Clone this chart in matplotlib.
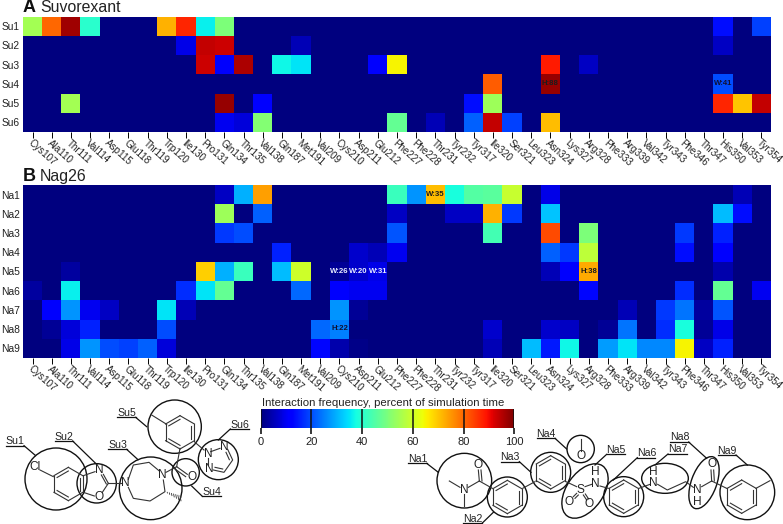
import numpy as np
import matplotlib
matplotlib.use("Agg")
import matplotlib.pyplot as plt
from matplotlib.patches import Ellipse
from matplotlib.transforms import ScaledTranslation

plt.rcParams['font.family'] = ['Liberation Sans', 'DejaVu Sans']

W, H = 783, 524

residues = ["Cys107", "Ala110", "Thr111", "Val114", "Asp115", "Glu118", "Thr119", "Trp120", "Ile130", "Pro131",
            "Gln134", "Thr135", "Val138", "Gln187", "Met191", "Val209", "Cys210", "Asp211", "Glu212", "Phe227",
            "Phe228", "Thr231", "Tyr232", "Tyr317", "Ile320", "Ser321", "Leu323", "Asn324", "Lys327", "Arg328",
            "Phe333", "Arg339", "Val342", "Tyr343", "Phe346", "Thr347", "His350", "Val353", "Tyr354"]

su_labels = ["Su1", "Su2", "Su3", "Su4", "Su5", "Su6"]
na_labels = ["Na1", "Na2", "Na3", "Na4", "Na5", "Na6", "Na7", "Na8", "Na9"]

su1 = [55, 80, 97, 40, 0, 0, 0, 72, 87, 36,  50, 0, 0, 0, 0, 0, 0, 0, 0, 0,  0, 0, 0, 0, 0, 0, 0, 0, 0, 0,  0, 0, 0, 0, 0, 0, 14, 0, 19]
su2 = [0, 0, 0, 0, 0, 0, 0, 0, 9, 94,  93, 0, 0, 0, 5, 0, 0, 0, 0, 0,  0, 0, 0, 0, 0, 0, 0, 0, 0, 0,  0, 0, 0, 0, 0, 0, 6, 0, 0]
su3 = [0, 0, 0, 0, 0, 0, 0, 0, 0, 93,  11, 96, 0, 37, 35, 0, 0, 0, 12, 65,  0, 0, 0, 0, 0, 0, 0, 88, 0, 6,  0, 0, 0, 0, 0, 0, 0, 0, 0]
su4 = [0, 0, 0, 0, 0, 0, 0, 0, 0, 0,  0, 0, 0, 0, 0, 0, 0, 0, 0, 0,  0, 0, 0, 0, 81, 0, 0, 98, 0, 0,  0, 0, 0, 0, 0, 0, 20, 0, 0]
su5 = [0, 0, 55, 0, 0, 0, 0, 0, 0, 0,  98, 0, 12, 0, 0, 0, 0, 0, 0, 0,  0, 0, 0, 14, 54, 0, 0, 0, 0, 0,  0, 0, 0, 0, 0, 0, 87, 70, 94]
su6 = [0, 0, 0, 0, 0, 0, 0, 0, 0, 0,  10, 8, 51, 0, 0, 0, 0, 0, 0, 47,  0, 5, 0, 22, 94, 19, 0, 71, 0, 0,  0, 0, 0, 0, 0, 0, 0, 0, 0]

na1 = [0, 0, 0, 0, 0, 0, 0, 0, 0, 0,  6, 30, 74, 0, 0, 0, 0, 0, 0, 42,  27, 71, 38, 45, 46, 59, 0, 9, 0, 0,  0, 0, 0, 0, 0, 0, 0, 5, 0]
na2 = [0, 0, 0, 0, 0, 0, 0, 0, 0, 0,  54, 0, 22, 0, 0, 0, 0, 0, 0, 6,  0, 0, 6, 6, 72, 18, 0, 32, 0, 0,  0, 0, 0, 0, 0, 0, 31, 14, 0]
na3 = [0, 0, 0, 0, 0, 0, 0, 0, 0, 0,  18, 20, 0, 0, 0, 0, 0, 0, 0, 21,  0, 0, 0, 0, 43, 0, 0, 83, 0, 50,  0, 0, 0, 0, 18, 0, 16, 0, 0]
na4 = [0, 0, 0, 0, 0, 0, 0, 0, 0, 0,  0, 0, 0, 16, 0, 0, 0, 7, 5, 10,  0, 0, 0, 0, 0, 0, 0, 22, 18, 58,  0, 0, 0, 0, 14, 0, 11, 0, 0]
na5 = [0, 0, 3, 0, 0, 0, 0, 0, 0, 69,  30, 42, 0, 31, 60, 0, 2, 7, 9, 0,  0, 0, 0, 0, 0, 0, 0, 5, 11, 73,  0, 0, 0, 0, 0, 0, 4, 0, 0]
na6 = [3, 0, 36, 0, 0, 0, 0, 0, 17, 35,  47, 0, 0, 0, 23, 0, 11, 10, 10, 0,  0, 0, 0, 0, 0, 0, 0, 0, 0, 13,  0, 0, 0, 0, 17, 0, 47, 0, 10]
na7 = [0, 11, 27, 10, 6, 0, 0, 35, 5, 0,  0, 0, 0, 0, 0, 0, 27, 2, 0, 0,  0, 0, 0, 0, 0, 0, 0, 0, 0, 0,  0, 5, 0, 18, 24, 3, 21, 0, 0]
na8 = [0, 2, 8, 16, 0, 0, 0, 20, 0, 0,  0, 0, 0, 0, 0, 23, 25, 0, 0, 0,  0, 0, 0, 0, 7, 0, 0, 7, 6, 0,  2, 24, 0, 17, 38, 2, 9, 0, 0]
na9 = [0, 0, 9, 27, 20, 19, 22, 8, 0, 0,  0, 0, 0, 0, 0, 13, 4, 1, 0, 0,  0, 0, 0, 0, 5, 0, 31, 15, 37, 0,  28, 35, 26, 26, 65, 6, 16, 0, 0]

# (row, residue, text, colour)
su_notes = [("Su4", "Asn324", "H:88", "#1c1c1c"), ("Su4", "His350", "W:41", "#101030")]
na_notes = [("Na1", "Thr231", "W:35", "#1c1c1c"), ("Na5", "Cys210", "W:26", "#e8ecff"),
            ("Na5", "Asp211", "W:20", "#e8ecff"), ("Na5", "Glu212", "W:31", "#e8ecff"),
            ("Na5", "Arg328", "H:38", "#1c1c1c"), ("Na8", "Cys210", "H:22", "#101030")]

cbar_ticks = [0, 20, 40, 60, 80, 100]


def px_axes(fig, x0, y0, x1, y1):
    return fig.add_axes([x0 / W, 1 - y1 / H, (x1 - x0) / W, (y1 - y0) / H])


def heat(ax, rows, row_labels, notes, letter, name):
    m = np.array(rows)
    im = ax.imshow(m, cmap="jet", vmin=0, vmax=100, aspect="auto", interpolation="nearest")
    ax.set_xticks(range(len(residues)))
    ax.set_xticklabels(residues, rotation=-42, ha="left", va="center", rotation_mode="anchor", fontsize=7.1, color="#222222")
    ax.set_yticks(range(len(row_labels)))
    ax.set_yticklabels(row_labels, fontsize=7.4, color="#222222")
    ax.tick_params(axis="x", length=4, width=0.7, pad=3)
    ax.tick_params(axis="y", length=0, pad=2.5)
    # labels sit a little left of their ticks
    shift = ScaledTranslation(-3 / 100, 0, ax.figure.dpi_scale_trans)
    for lab in ax.get_xticklabels():
        lab.set_transform(lab.get_transform() + shift)
    for s in ax.spines.values():
        s.set_visible(False)
    for r, c, t, col in notes:
        ax.text(residues.index(c), row_labels.index(r), t, ha="center", va="center", fontsize=5.6, fontweight="bold", color=col)
    ax.annotate(letter, (0, 1), xycoords="axes fraction", xytext=(0, 3.2), textcoords="offset points",
                fontsize=13, fontweight="bold", va="baseline", ha="left", color="#111111")
    ax.annotate(name, (0, 1), xycoords="axes fraction", xytext=(12.2, 3.2), textcoords="offset points",
                fontsize=11.4, va="baseline", ha="left", color="#222222")
    return im


fig = plt.figure(figsize=(W / 100, H / 100), dpi=100)

ax_a = px_axes(fig, 23, 16.7, 771, 131.7)
heat(ax_a, [su1, su2, su3, su4, su5, su6], su_labels, su_notes, "A", "Suvorexant")

ax_b = px_axes(fig, 23, 185, 771, 357.7)
im = heat(ax_b, [na1, na2, na3, na4, na5, na6, na7, na8, na9], na_labels, na_notes, "B", "Nag26")

# colour bar
cax = px_axes(fig, 260.7, 409.3, 514.3, 428.3)
cb = fig.colorbar(im, cax=cax, orientation="horizontal", ticks=cbar_ticks)
cb.outline.set_visible(False)
cax.tick_params(axis="x", length=4, width=1.1, pad=2, labelsize=8, labelcolor="#222222")
cax.vlines(cbar_ticks, 0, 1, color="#111111", lw=1.1, transform=cax.get_xaxis_transform())
fig.text(261.5 / W, 1 - 403 / H, "Interaction frequency, percent of simulation time", fontsize=8.2, color="#222222", va="center")

# chemical structures, coordinates are in crop pixels (3x), with an offset per molecule
ov = fig.add_axes([0, 0, 1, 1])
ov.set_xlim(0, W)
ov.set_ylim(H, 0)
ov.axis("off")
ov.patch.set_alpha(0)


def ring(cx, cy, r, start=90):
    a = np.radians(np.arange(6) * 60 + start)
    return np.c_[cx + r * np.cos(a), cy - r * np.sin(a)]


def draw_ring(pts, off, inner=(0, 2, 4)):
    n = len(pts)
    c = pts.mean(axis=0)
    for i in range(n):
        p, q = pts[i], pts[(i + 1) % n]
        ov.plot(*zip(off + p / 3, off + q / 3), color="#333333", lw=0.8)
        if i in inner:
            p2 = c + (p - c) * 0.78
            q2 = c + (q - c) * 0.78
            ov.plot(*zip(off + p2 / 3, off + q2 / 3), color="#333333", lw=0.8)


def draw_mol(off, bonds, atoms, circles, tags):
    off = np.array(off, float)
    for b in bonds:
        b = off + np.array(b, float) / 3
        ov.plot(b[:, 0], b[:, 1], color="#333333", lw=0.8)
    for x, y, t in atoms:
        ov.text(off[0] + x / 3, off[1] + y / 3, t, fontsize=8.6, ha="center", va="center", color="#222222")
    for x, y, w, h, ang in circles:
        ov.add_patch(Ellipse((off[0] + x / 3, off[1] + y / 3), 2 * w / 3, 2 * h / 3, angle=ang, fill=False, ec="#111111", lw=1.0))
    for t, x0, x1, y, tx, ty in tags:
        pts = off + np.array([[x0, y], [x1, y]], float) / 3
        ov.plot(pts[:, 0], pts[:, 1], color="#111111", lw=0.9)
        # leader runs from the end of the underline nearest the circle
        sx = x1 if abs(tx - x1) < abs(tx - x0) else x0
        pts = off + np.array([[sx, y], [tx, ty]], float) / 3
        ov.plot(pts[:, 0], pts[:, 1], color="#111111", lw=0.9)
        ov.text(off[0] + (x0 + x1) / 6, off[1] + y / 3 + 0.5, t, fontsize=7.6, ha="center", va="bottom", color="#222222")


# Suvorexant
su_off = (0, 385)
su_bonds = [[(120, 255), (160, 275)], [(250, 272), (285, 260)], [(310, 268), (325, 295)], [(304, 270), (319, 297)],
            [(325, 295), (307, 322)], [(250, 322), (283, 333)], [(325, 295), (365, 295)],
            [(385, 283), (400, 240), (447, 232), (478, 258)], [(385, 307), (400, 340), (450, 348), (495, 320), (490, 285)],
            [(498, 262), (530, 245)], [(530, 245), (562, 268)], [(525, 252), (557, 275)], [(530, 245), (540, 190)],
            [(500, 118), (455, 90)], [(585, 172), (612, 195)],
            [(632, 200), (660, 190)], [(683, 193), (698, 225), (672, 262), (640, 255)], [(625, 220), (625, 240)], [(678, 202), (688, 224)], [(668, 252), (645, 247)]]
su_atoms = [(105, 245, "Cl"), (297, 255, "N"), (297, 337, "O"), (377, 295, "N"), (487, 270, "N"), (575, 277, "O"),
            (625, 207, "N"), (672, 187, "N"), (627, 252, "N")]
su_circles = [(168, 282, 93, 93, 0), (290, 295, 59, 59, 0), (452, 310, 94, 94, 0), (557, 262, 41, 41, 0),
              (524, 125, 80, 80, 0), (655, 224, 60, 60, 0)]
su_tags = [("Su1", 18, 72, 182, 107, 212), ("Su2", 165, 218, 168, 290, 238), ("Su3", 325, 380, 193, 414, 224),
           ("Su4", 607, 662, 334, 575, 303), ("Su5", 352, 407, 97, 440, 125), ("Su6", 691, 746, 132, 655, 165)]
draw_ring(ring(205, 297, 50), np.array(su_off, float))
draw_ring(ring(540, 142, 50), np.array(su_off, float))
draw_mol(su_off, su_bonds, su_atoms, su_circles, su_tags)
# hashed methyl on the diazepane
for f in np.linspace(0.15, 1, 7):
    x, y = 495 + 45 * f, 320 + 20 * f
    ov.plot([x / 3, x / 3 + f * 1.0], [385 + y / 3 - f * 2.5, 385 + y / 3 + f * 2.5], color="#333333", lw=0.6)

# Nag26
na_off = (420, 385)
na_bonds = [[(88, 288), (120, 307)], [(132, 328), (132, 362)], [(145, 307), (178, 288)], [(178, 288), (175, 255)], [(186, 288), (183, 255)],
            [(178, 288), (217, 310)], [(308, 310), (345, 290)], [(438, 290), (470, 305)], [(460, 335), (470, 325)], [(465, 340), (475, 330)],
            [(490, 330), (500, 345)], [(496, 327), (506, 342)], [(495, 305), (515, 298)], [(540, 303), (565, 310)],
            [(657, 310), (690, 298)], [(713, 298), (742, 315), (797, 290), (820, 307)], [(845, 305), (875, 288)],
            [(875, 288), (873, 255)], [(883, 288), (881, 255)], [(875, 288), (920, 310)], [(1008, 310), (1050, 287)], [(482, 198), (482, 162)]]
na_atoms = [(132, 315, "N"), (175, 240, "O"), (482, 315, "S"), (447, 350, "O"), (507, 358, "O"), (527, 296, "N"), (525, 260, "H"),
            (700, 295, "N"), (700, 260, "H"), (832, 315, "N"), (832, 350, "H"), (875, 238, "O"), (482, 212, "O")]
na_circles = [(133, 287, 82, 82, 0), (262, 336, 60, 60, 0), (392, 262, 60, 60, 0), (482, 192, 41, 41, 0),
              (495, 318, 92, 55, -55), (611, 335, 60, 60, 0), (735, 280, 70, 45, 0), (852, 293, 82, 38, -70), (982, 322, 82, 82, 0)]
na_tags = [("Na1", -36, 20, 235, 55, 262), ("Na2", 130, 186, 415, 220, 382), ("Na3", 242, 298, 230, 333, 262),
           ("Na4", 350, 405, 160, 440, 192), ("Na5", 560, 616, 208, 525, 240), ("Na6", 652, 706, 218, 580, 285),
           ("Na7", 744, 800, 207, 705, 240), ("Na8", 751, 806, 171, 860, 220), ("Na9", 893, 948, 210, 982, 240)]
for c in [(262, 336), (392, 262), (611, 335), (965, 335)]:
    draw_ring(ring(c[0], c[1], 50), np.array(na_off, float))
draw_mol(na_off, na_bonds, na_atoms, na_circles, na_tags)

fig.savefig("out.png", dpi=100)
